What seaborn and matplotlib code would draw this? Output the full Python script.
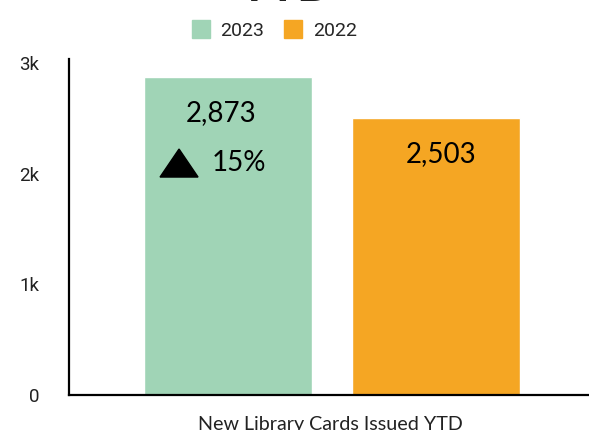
import matplotlib
matplotlib.use("Agg")
import matplotlib.pyplot as plt
import matplotlib.transforms as mtransforms
from matplotlib.patches import Polygon
from matplotlib.lines import Line2D
import seaborn as sns
import pandas as pd

category = ["New Library Cards Issued YTD"]
years = ["2023", "2022"]
values = [2873, 2503]
change_label = "15%"
colors = ["#A0D4B6", "#F5A623"]

df = pd.DataFrame({"cat": category * 2, "year": years, "value": values})

sns.set_theme(style="white")
plt.rcParams["font.family"] = ["Roboto", "DejaVu Sans"]

fig = plt.figure(figsize=(5.89, 4.30), dpi=100)
ax = fig.add_axes([69 / 589, 35 / 430, 526 / 589, 336 / 430])

sns.barplot(data=df, x="cat", y="value", hue="year", hue_order=years,
            palette=colors, gap=0.192, width=0.8, ax=ax, legend=False,
            saturation=1)

ax.set_xlim(-0.506, 0.506)
ax.set_ylim(0, 3036)
ax.set_yticks([0, 1000, 2000, 3000])
ax.set_yticklabels(["0", "1k", "2k", "3k"], fontsize=13.5, color="#222222")
ax.tick_params(axis="y", length=0, pad=21.5)
ax.set_xticks([])
ax.set_ylabel("")
ax.set_xlabel("")
for s in ["top", "right"]:
    ax.spines[s].set_visible(False)
for s in ["left", "bottom"]:
    ax.spines[s].set_color("black")
    ax.spines[s].set_linewidth(1.6)

bars = sorted(ax.patches, key=lambda p: p.get_x())
label_dx = [-5, 4]
for p, v, dx in zip(bars, values, label_dx):
    cx = p.get_x() + p.get_width() / 2
    ax.annotate(f"{v:,}", (cx, v), xytext=(dx, -26), textcoords="offset points",
                ha="center", va="center", fontsize=20, family="Lato", color="black")

p0 = bars[0]
cx0 = p0.get_x() + p0.get_width() / 2
tri_trans = fig.dpi_scale_trans + mtransforms.ScaledTranslation(cx0, values[0], ax.transData)
tri = Polygon([(-0.68, -1.00), (-0.30, -1.00), (-0.49, -0.72)], closed=True,
              facecolor="black", edgecolor="black", transform=tri_trans, clip_on=False)
ax.add_patch(tri)
ax.annotate(change_label, (cx0, values[0]), xytext=(7.5, -62), textcoords="offset points",
            ha="center", va="center", fontsize=20, family="Lato", color="black")

# x category label
ax.annotate(category[0], (0, 0), xytext=(-1, -21), textcoords="offset points",
            ha="center", va="center", fontsize=14.2, family="Lato", color="#222222",
            annotation_clip=False)

# legend
handles = [Line2D([0], [0], marker="s", linestyle="none", markersize=12.5,
                  markerfacecolor=c, markeredgecolor=c) for c in colors]
fig.legend(handles, years, loc="center", bbox_to_anchor=(274 / 589, 1 - 31 / 430),
           ncol=2, frameon=False, fontsize=14, handletextpad=0.5, columnspacing=1.0,
           handlelength=1.0)

fig.text(286 / 589, 1 - 1 / 430, "YTD", ha="center", va="baseline",
         fontsize=34, fontweight="bold", family="Lato", color="#222222")

fig.savefig("out.png", dpi=100)
